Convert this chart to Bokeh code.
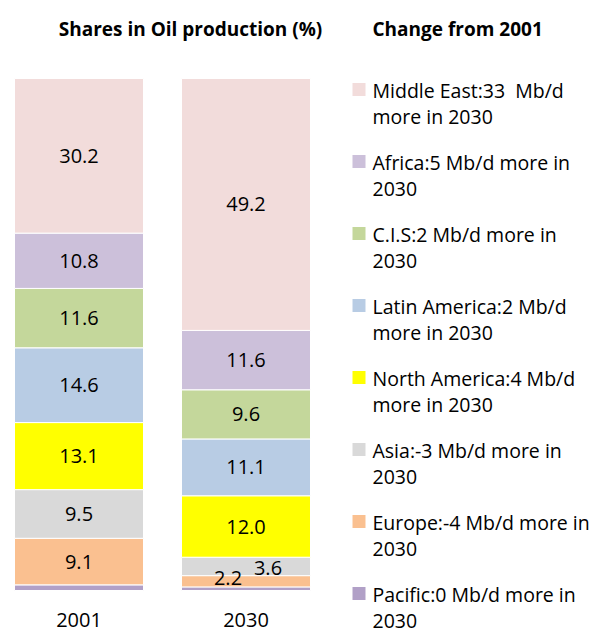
from bokeh.plotting import figure
from bokeh.models import Range1d, ColumnDataSource
from bokeh.embed import file_html
from bokeh.resources import INLINE
from bokeh.core.properties import value

# ---------------- data ----------------
years = ["2001", "2030"]
regions = ["Pacific", "Europe", "Asia", "North America", "Latin America",
           "C.I.S", "Africa", "Middle East"]
share_2001 = [1.1, 9.1, 9.5, 13.1, 14.6, 11.6, 10.8, 30.2]
share_2030 = [0.7, 2.2, 3.6, 12.0, 11.1, 9.6, 11.6, 49.2]
colors = ["#B1A0C7", "#FAC090", "#D9D9D9", "#FFFF00", "#B8CCE4",
          "#C4D79B", "#CCC0DA", "#F2DCDB"]
show_label = [False, True, True, True, True, True, True, True]
legend_regions = ["Middle East", "Africa", "C.I.S", "Latin America",
                  "North America", "Asia", "Europe", "Pacific"]
legend_change = [33, 5, 2, 2, 4, -3, -4, 0]
legend_lines = [
    ("Middle East:33\u00a0 Mb/d", "more in 2030"),
    ("Africa:5 Mb/d more in", "2030"),
    ("C.I.S:2 Mb/d more in", "2030"),
    ("Latin America:2 Mb/d", "more in 2030"),
    ("North America:4 Mb/d", "more in 2030"),
    ("Asia:-3 Mb/d more in", "2030"),
    ("Europe:-4 Mb/d more in", "2030"),
    ("Pacific:0 Mb/d more in", "2030"),
]
title_left = "Shares in Oil production (%)"
title_right = "Change from 2001"

# ---------------- layout helpers (page pixel -> data) ----------------
W, H = 599, 635
PX_PER_PCT = 5.12
BASE = 590  # page y of 0 %


def rx(X):
    return X


def ry(Y):
    return (BASE - Y) / PX_PER_PCT


FONT = "Open Sans"

p = figure(width=W, height=H, output_backend="svg", toolbar_location=None,
           x_range=Range1d(0, W), y_range=Range1d(ry(H), ry(0)),
           min_border=0, min_border_left=0, min_border_right=0,
           min_border_top=0, min_border_bottom=0)
p.axis.visible = False
p.grid.visible = False
p.outline_line_color = None
p.background_fill_color = "white"

bar_x = [rx(78.5), rx(245.5)]
bar_w = 129

label_offsets = {("2030", "Asia"): (22, 2), ("2030", "Europe"): (-18, -3)}

for yi, (yr, vals) in enumerate(zip(years, [share_2001, share_2030])):
    bottoms, tops = [], []
    acc = 0.0
    for v in vals:
        bottoms.append(acc)
        acc += v
        tops.append(acc)
    src = ColumnDataSource(dict(x=[bar_x[yi]] * len(vals), bottom=bottoms,
                                top=tops, color=colors))
    p.vbar(x="x", width=bar_w, bottom="bottom", top="top", source=src,
           fill_color="color", line_color="white", line_width=1)
    lx, ly, lt, xo, yo = [], [], [], [], []
    for r, b, t, v, show in zip(regions, bottoms, tops, vals, show_label):
        if not show:
            continue
        ox, oy = label_offsets.get((yr, r), (0, 0))
        lx.append(bar_x[yi])
        ly.append((b + t) / 2)
        lt.append(f"{v:.1f}")
        xo.append(ox)
        yo.append(oy)
    p.text(x=lx, y=ly, text=lt, x_offset=xo, y_offset=yo,
           text_align="center", text_baseline="middle",
           text_font=value(FONT), text_font_size="20px", text_color="#000000")

# year labels
p.text(x=bar_x, y=[ry(619)] * 2, text=years, text_align="center",
       text_baseline="middle", text_font=value(FONT), text_font_size="20px",
       text_color="#000000")

# titles
p.text(x=[rx(190)], y=[ry(28)], text=[title_left], text_align="center",
       text_baseline="middle", text_font=value(FONT), text_font_size="19px",
       text_font_style="bold", text_color="#000000")
p.text(x=[rx(372)], y=[ry(28)], text=[title_right], text_align="left",
       text_baseline="middle", text_font=value(FONT), text_font_size="19px",
       text_font_style="bold", text_color="#000000")

# legend
leg_colors = [colors[regions.index(r)] for r in legend_regions]
leg_y = [89 + 72.0 * i for i in range(len(legend_regions))]
p.rect(x=[rx(358.5)] * len(leg_y), y=[ry(v) for v in leg_y], width=13,
       height=13 / PX_PER_PCT, fill_color=leg_colors, line_color=None)
l1 = [a for a, b in legend_lines]
l2 = [b for a, b in legend_lines]
p.text(x=[rx(372)] * len(leg_y), y=[ry(v + 1) for v in leg_y], text=l1,
       text_align="left", text_baseline="middle", text_font=value(FONT),
       text_font_size="19.5px", text_color="#000000")
p.text(x=[rx(372)] * len(leg_y), y=[ry(v + 27) for v in leg_y], text=l2,
       text_align="left", text_baseline="middle", text_font=value(FONT),
       text_font_size="19.5px", text_color="#000000")

open("out.html", "w").write(file_html(p, INLINE))
